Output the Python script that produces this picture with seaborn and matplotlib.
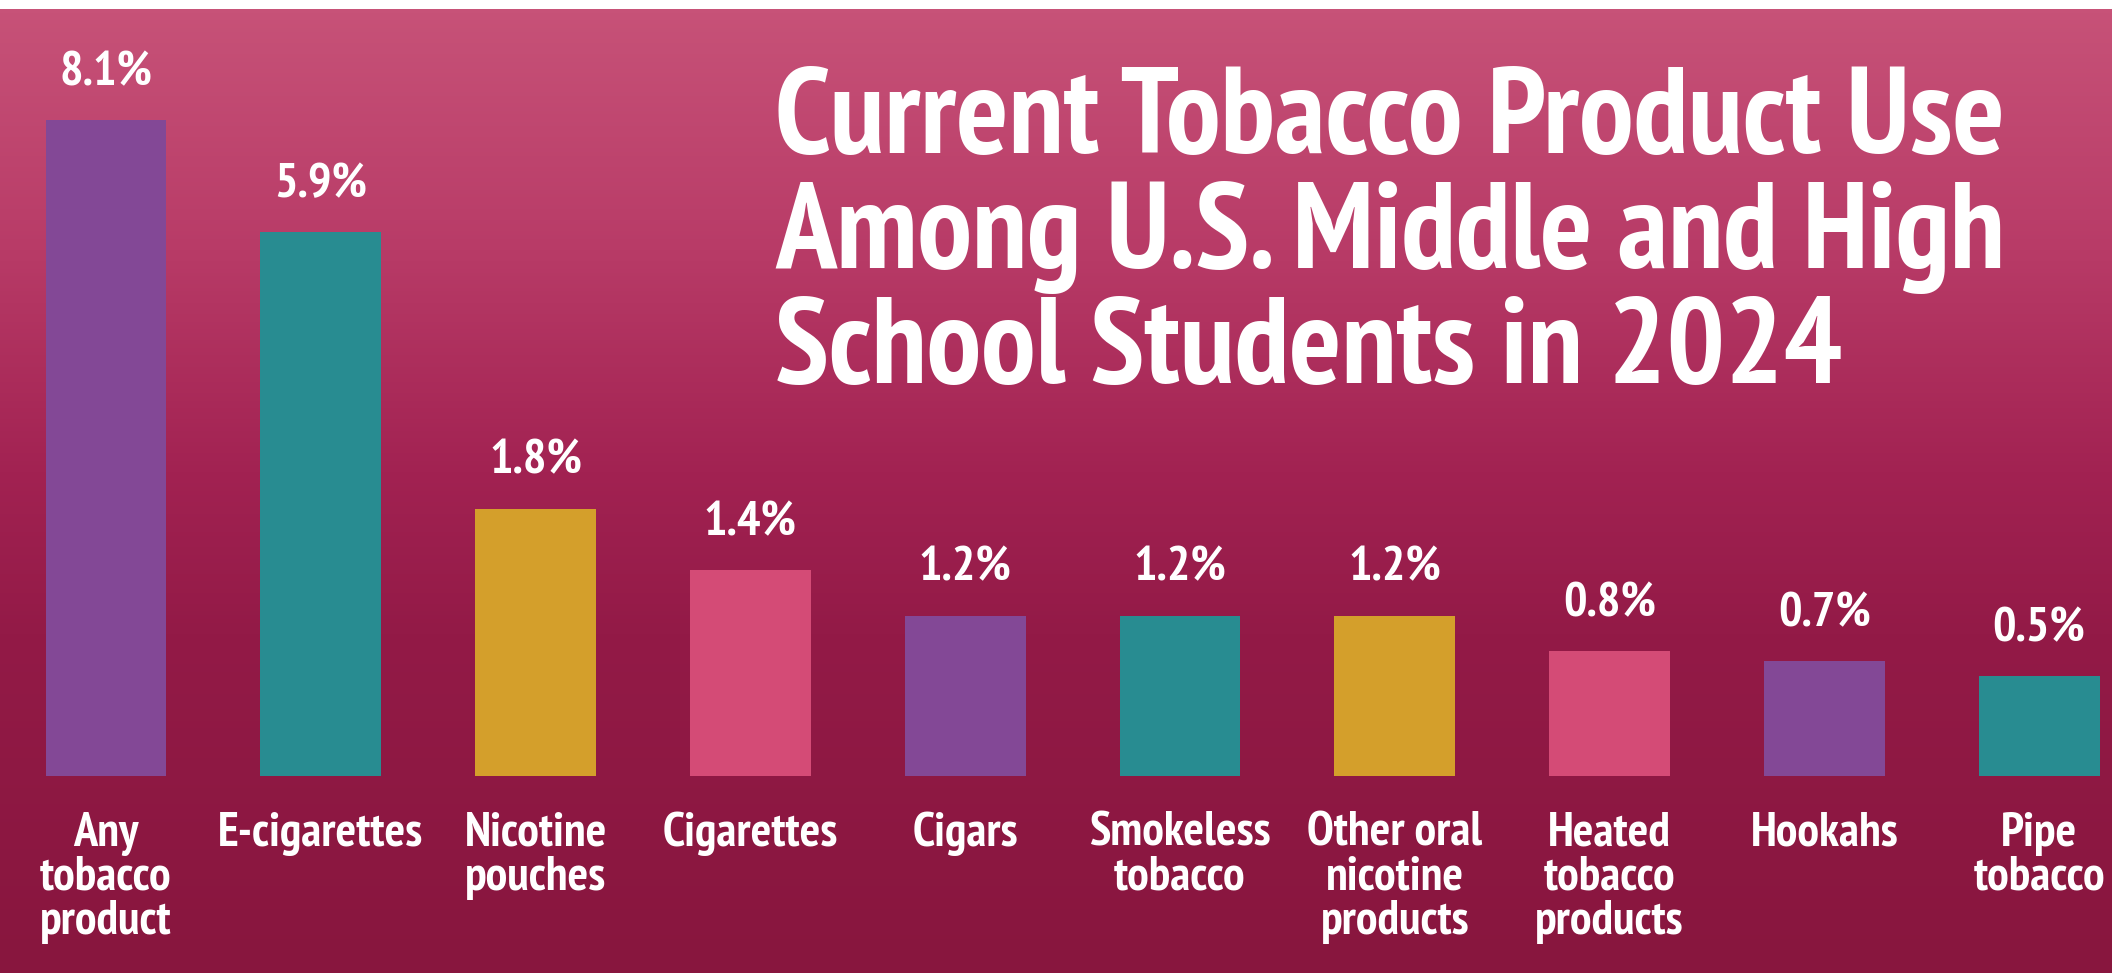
import numpy as np
import pandas as pd
import matplotlib
matplotlib.use("Agg")
import matplotlib.pyplot as plt
from matplotlib.colors import LinearSegmentedColormap
from matplotlib import font_manager as fm
from matplotlib.font_manager import FontProperties
import seaborn as sns

# ---- data ----
categories = ["Any\ntobacco\nproduct", "E-cigarettes", "Nicotine\npouches", "Cigarettes",
              "Cigars", "Smokeless\ntobacco", "Other oral\nnicotine\nproducts",
              "Heated\ntobacco\nproducts", "Hookahs", "Pipe\ntobacco"]
values = [8.1, 5.9, 1.8, 1.4, 1.2, 1.2, 1.2, 0.8, 0.7, 0.5]          # printed percentages
# bar heights as drawn in the source graphic (not proportional to the labels)
bar_heights = [8.1, 6.72, 3.30, 2.54, 1.98, 1.98, 1.98, 1.54, 1.42, 1.23]
bar_colors = ["#834896", "#288c91", "#d49f2b", "#d44b76",
              "#834896", "#288c91", "#d49f2b", "#d44b76",
              "#834896", "#288c91"]
title = "Current Tobacco Product Use\nAmong U.S. Middle and High\nSchool Students in 2024"

df = pd.DataFrame({"category": categories, "height": bar_heights})

sns.set_theme(style="white")

# pick a condensed bold sans that is installed
installed = {f.name for f in fm.fontManager.ttflist}
fam, stretch = "Roboto", "condensed"
for cand in ["PT Sans Narrow", "Fira Sans Condensed", "Roboto Condensed",
             "Archivo Narrow", "Asap Condensed", "Barlow Semi Condensed"]:
    if cand in installed:
        fam, stretch = cand, "normal"
        break
FONT = [fam, "DejaVu Sans"]
plt.rcParams["font.family"] = FONT

W, H, DPI = 2112, 973, 100
PT = DPI / 72.0
fig = plt.figure(figsize=(W / DPI, H / DPI), dpi=DPI)
fig.patch.set_facecolor("white")
r = fig.canvas.get_renderer()


def fp(size):
    return FontProperties(family=FONT, weight="bold", stretch=stretch, size=size)


def width_px(s, size):
    w, _, _ = r.get_text_width_height_descent(s, fp(size), ismath=False)
    return w


def fit(s, target):
    return 100 * target / width_px(s, 100)


def lp(size):
    _, h, d = r.get_text_width_height_descent("lp", fp(size), ismath=False)
    return h, d


# background gradient (white strip at very top)
bg = fig.add_axes([0, 0, 1, 1 - 9 / H], zorder=0)
cmap = LinearSegmentedColormap.from_list(
    "bg", [(0.0, "#c75278"), (0.25, "#b83b67"), (0.48, "#a22252"),
           (0.65, "#931a47"), (1.0, "#88163e")])
grad = np.linspace(0, 1, 256).reshape(-1, 1)
bg.imshow(grad, aspect="auto", cmap=cmap, extent=[0, 1, 1, 0])
bg.set_xlim(0, 1); bg.set_ylim(1, 0)
bg.axis("off")

# main axes: bottom at bar baseline
base_px = 776
ax = fig.add_axes([0, (H - base_px) / H, 1, base_px / H], zorder=1)
ax.patch.set_alpha(0)
sns.barplot(data=df, x="category", y="height", hue="category", palette=bar_colors,
            legend=False, width=0.563, saturation=1, ax=ax, linewidth=0)
ax.set_xlim(-0.4935, 9.339)
ax.set_ylim(0, base_px / 81.0)
for s in ax.spines.values():
    s.set_visible(False)
ax.set_yticks([])
ax.set_xlabel(""); ax.set_ylabel("")

# category labels
cat_size = fit("E-cigarettes", 205)
lh, ld = lp(cat_size)
cat_ls = (44 - ld) / (lh - ld)
first_baseline = 846 - base_px          # px below bar baseline
pad_pt = (first_baseline - (lh - ld)) / PT
ax.tick_params(axis="x", length=0, pad=pad_pt, labelsize=cat_size, labelcolor="white")
for lab in ax.get_xticklabels():
    lab.set_fontproperties(fp(cat_size))
    lab.set_linespacing(cat_ls)

# value labels
val_size = fit("8.1%", 93)
for i, (h, v) in enumerate(zip(bar_heights, values)):
    ax.annotate(f"{v}%", xy=(i, h), xytext=(0, 35 / PT), textcoords="offset points",
                ha="center", va="baseline", color="white", fontproperties=fp(val_size),
                annotation_clip=False)

# title
t_size = fit("Current Tobacco Product Use", 1230)
th, td = lp(t_size)
t_ls = (114 - td) / (th - td)
top_px = 153 - (th - td)
fig.text(775 / W, 1 - top_px / H, title, ha="left", va="top", color="white",
         fontproperties=fp(t_size), linespacing=t_ls)

fig.savefig("out.png", dpi=DPI)
